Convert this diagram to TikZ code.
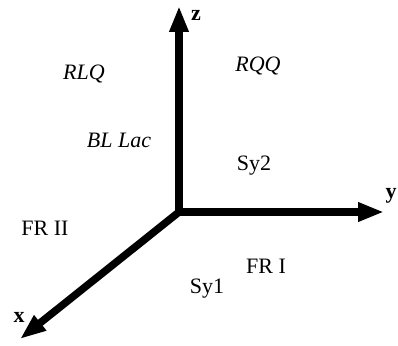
\documentclass[tikz,border=0pt]{standalone}
\usepackage{fontspec}
\setmainfont{Liberation Serif}
\usetikzlibrary{arrows.meta}
\tikzset{
  axis/.style={line width=7.5pt, -{Triangle[length=26pt,width=18pt]}},
  lbl/.style={inner sep=0pt, font=\fontsize{22}{26}\selectfont},
  itlbl/.style={lbl, font=\fontsize{22}{26}\selectfont\itshape},
  axlbl/.style={inner sep=0pt, font=\fontsize{22}{26}\selectfont\bfseries}
}
\begin{document}
\begin{tikzpicture}[x=1pt,y=-1pt]
\useasboundingbox (0,0) rectangle (398,345);
\coordinate (o) at (179,212);
\coordinate (zt) at (179,6);
\coordinate (yt) at (384,212);
\coordinate (xt) at (20,339);
\draw[axis] (o) -- (zt);
\draw[axis] (o) -- (yt);
\draw[axis,line cap=butt] (o) -- (xt);
\fill (o) circle (3.75pt);
\node[axlbl] (zl) at (196,15) {z};
\node[axlbl] (yl) at (391,196) {y};
\node[axlbl] (xl) at (19,317) {x};
\node[itlbl] (rlq) at (84,74) {RLQ};
\node[itlbl] (rqq) at (258,66) {RQQ};
\node[itlbl] (bll) at (119,140) {BL Lac};
\node[lbl] (sy2) at (254,166) {Sy2};
\node[lbl] (fr2) at (45,228) {FR II};
\node[lbl] (fr1) at (266,266) {FR I};
\node[lbl] (sy1) at (207,289) {Sy1};
\end{tikzpicture}
\end{document}
